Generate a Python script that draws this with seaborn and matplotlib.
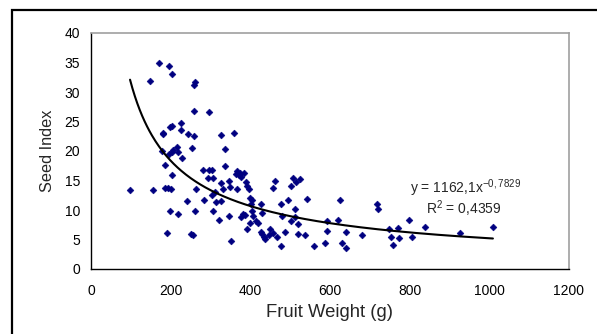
import numpy as np
import pandas as pd
import matplotlib
matplotlib.use('Agg')
import matplotlib.pyplot as plt
import matplotlib.patches as patches
import seaborn as sns

# -----------------------------
# Data
# -----------------------------
fruit_weight = [
    98, 148, 156, 171, 179, 180, 182, 187, 187, 190, 194, 196, 197, 198, 198,
    201, 203, 203, 204, 204, 207, 215, 218, 219, 225, 226, 229, 240, 243, 251,
    253, 257, 258, 259, 259, 262, 261, 263, 282, 284, 293, 295, 297, 305, 306,
    305, 306, 312, 315, 321, 326, 327, 327, 331, 336, 337, 346, 346, 350, 351,
    359, 364, 366, 367, 371, 374, 377, 377, 381, 384, 387, 389, 391, 391, 397,
    399, 399, 401, 403, 405, 407, 413, 418, 426, 426, 430, 430, 434, 437, 448,
    449, 456, 458, 463, 468, 476, 477, 480, 486, 494, 502, 503, 507, 512, 512,
    514, 520, 520, 525, 537, 543, 561, 588, 592, 592, 621, 626, 629, 641, 641,
    680, 717, 721, 748, 752, 759, 771, 772, 798, 805, 838, 927, 1009,
]
seed_index = [
    13.4, 31.9, 13.4, 35.0, 20.0, 23.0, 22.8, 17.6, 13.7, 6.1, 13.7, 34.4, 19.5, 24.1, 9.9,
    13.6, 16.0, 19.9, 33.1, 24.3, 20.1, 20.6, 9.4, 19.9, 23.5, 24.7, 18.8, 11.6, 22.8, 5.9,
    20.5, 5.7, 31.2, 26.8, 22.6, 31.7, 9.9, 13.5, 16.7, 11.7, 15.4, 16.7, 26.6, 16.7, 15.4,
    12.5, 9.9, 13.1, 11.3, 8.3, 22.7, 14.5, 11.6, 13.6, 20.3, 17.4, 15.0, 8.9, 13.9, 4.75,
    23.1, 16.1, 13.5, 16.6, 15.9, 16.2, 15.6, 8.8, 9.3, 16.3, 9.2, 14.8, 14.1, 6.7, 13.6,
    12.0, 7.8, 11.1, 11.7, 9.8, 8.9, 8.2, 7.8, 11.1, 6.3, 9.5, 5.9, 5.5, 5.1, 5.8,
    6.7, 6.05, 13.7, 15.0, 5.4, 11.1, 3.9, 8.9, 6.2, 11.7, 14.1, 8.1, 15.4, 10.1, 8.8,
    14.8, 7.6, 6.0, 15.3, 5.7, 11.9, 3.9, 4.4, 8.1, 6.5, 8.3, 11.7, 4.4, 6.3, 3.5,
    5.8, 11.1, 10.1, 6.8, 5.5, 4.1, 7.0, 5.2, 8.3, 5.5, 7.2, 6.05, 7.07,
]

# power trendline as printed on the chart
trend_a = 1162.1
trend_b = -0.7829
trend_r2 = 0.4359

x_ticks = [0, 200, 400, 600, 800, 1000, 1200]
y_ticks = [0, 5, 10, 15, 20, 25, 30, 35, 40]

df = pd.DataFrame({'weight': fruit_weight, 'seed': seed_index})

# -----------------------------
# Plot
# -----------------------------
sns.set_style('white')
plt.rcParams['font.family'] = ['Liberation Sans', 'DejaVu Sans']

fig = plt.figure(figsize=(5.97, 3.34), dpi=100)
ax = fig.add_axes([91 / 597, 1 - 269 / 334, (569 - 91) / 597, (269 - 33) / 334])

sns.scatterplot(data=df, x='weight', y='seed', marker='D', s=12,
                color='#000080', edgecolor='#000080', linewidth=0.4, ax=ax, zorder=3)

xs = np.linspace(min(fruit_weight), max(fruit_weight), 300)
trend = pd.DataFrame({'weight': xs, 'seed': trend_a * xs ** trend_b})
sns.lineplot(data=trend, x='weight', y='seed', color='black', linewidth=1.5, ax=ax, zorder=4)

ax.set_xlim(0, 1200)
ax.set_ylim(0, 40)
ax.set_xticks(x_ticks)
ax.set_yticks(y_ticks)
ax.tick_params(axis='both', direction='out', length=4, width=0.8, colors='black',
               labelsize=10, pad=4)
ax.tick_params(axis='x', pad=7)
ax.set_xlabel('Fruit Weight (g)', fontsize=13.3, labelpad=4)
ax.set_ylabel('Seed Index', fontsize=11.7, labelpad=7)

for side in ['left', 'bottom']:
    ax.spines[side].set_color('black')
    ax.spines[side].set_linewidth(1.0)
for side in ['top', 'right']:
    ax.spines[side].set_color('#a0a0a0')
    ax.spines[side].set_linewidth(1.2)

eq_text = 'y = %s,%sx' % tuple(str(trend_a).split('.'))
ax.text(410 / 597, 1 - 188 / 334,
        eq_text + r'$^{\mathregular{-0,7829}}$',
        transform=fig.transFigure, fontsize=10, va='center', ha='left')
ax.text(426 / 597, 1 - 209 / 334,
        r'R$^{\mathregular{2}}$ = ' + ('%.4f' % trend_r2).replace('.', ','),
        transform=fig.transFigure, fontsize=10, va='center', ha='left')

# outer chart frame (right and bottom edges fall outside the image)
frame = patches.Rectangle((12 / 597, -0.1), 1.2, 1 - 10 / 334 + 0.1,
                          transform=fig.transFigure, fill=False,
                          edgecolor='black', linewidth=1.6, clip_on=False)
fig.patches.append(frame)

fig.savefig('out.png', dpi=100)
plt.close(fig)
